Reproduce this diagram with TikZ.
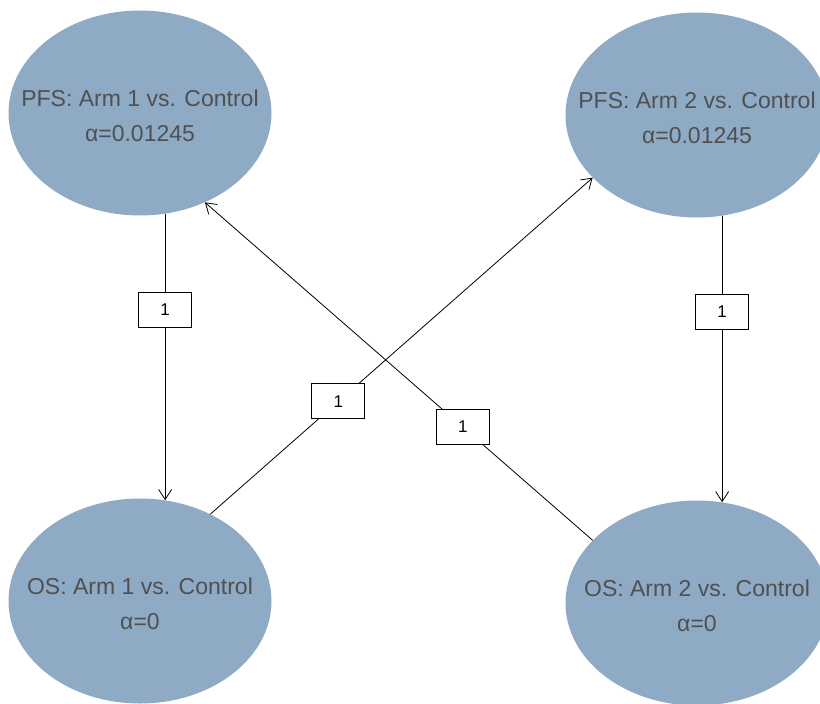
\documentclass[tikz,border=0pt]{standalone}
\usepackage{fontspec}
\setmainfont{Liberation Sans}
\usetikzlibrary{arrows.meta,shapes.geometric}
\definecolor{hypfill}{RGB}{142,170,197}
\definecolor{hyptext}{RGB}{80,80,80}
\tikzstyle{hypo} = [ellipse, fill=hypfill, minimum width=263pt, minimum height=205pt, inner sep=0pt]
\tikzstyle{hypotext} = [text=hyptext, align=center, font=\fontsize{23}{35}\selectfont]
\tikzstyle{transfer} = [->, >={Straight Barb[length=10pt,width=13pt]}, line width=0.8pt, draw=black]
\tikzstyle{wbox} = [rectangle, draw=black, fill=white, line width=0.9pt, minimum width=53pt, minimum height=35pt, font=\fontsize{17}{17}\selectfont, pos=0.335]

\begin{document}
\begin{tikzpicture}[x=1pt, y=-1pt]
\useasboundingbox (0,0) rectangle (820,704);
% hypotheses
\node[hypo] (pfs1) at (140,113) {};
\node[hypo] (pfs2) at (697,115) {};
\node[hypo] (os1) at (140,601) {};
\node[hypo] (os2) at (697,603) {};
\node[hypotext] (pfs1txt) at ([yshift=-3pt]pfs1) {PFS: Arm 1 vs. Control\\α=0.01245};
\node[hypotext] (pfs2txt) at ([yshift=-3pt]pfs2) {PFS: Arm 2 vs. Control\\α=0.01245};
\node[hypotext] (os1txt) at ([yshift=-3pt]os1) {OS: Arm 1 vs. Control\\α=0};
\node[hypotext] (os2txt) at ([yshift=-3pt]os2) {OS: Arm 2 vs. Control\\α=0};
% transition weights
\draw[transfer] (pfs1.284) -- node[wbox] {1} (os1.76);
\draw[transfer] (pfs2.284) -- node[wbox] {1} (os2.76);
\draw[transfer] (os1.51) -- node[wbox] {1} (pfs2.211);
\draw[transfer] (os2.149) -- node[wbox] {1} (pfs1.306);
\end{tikzpicture}
\end{document}
